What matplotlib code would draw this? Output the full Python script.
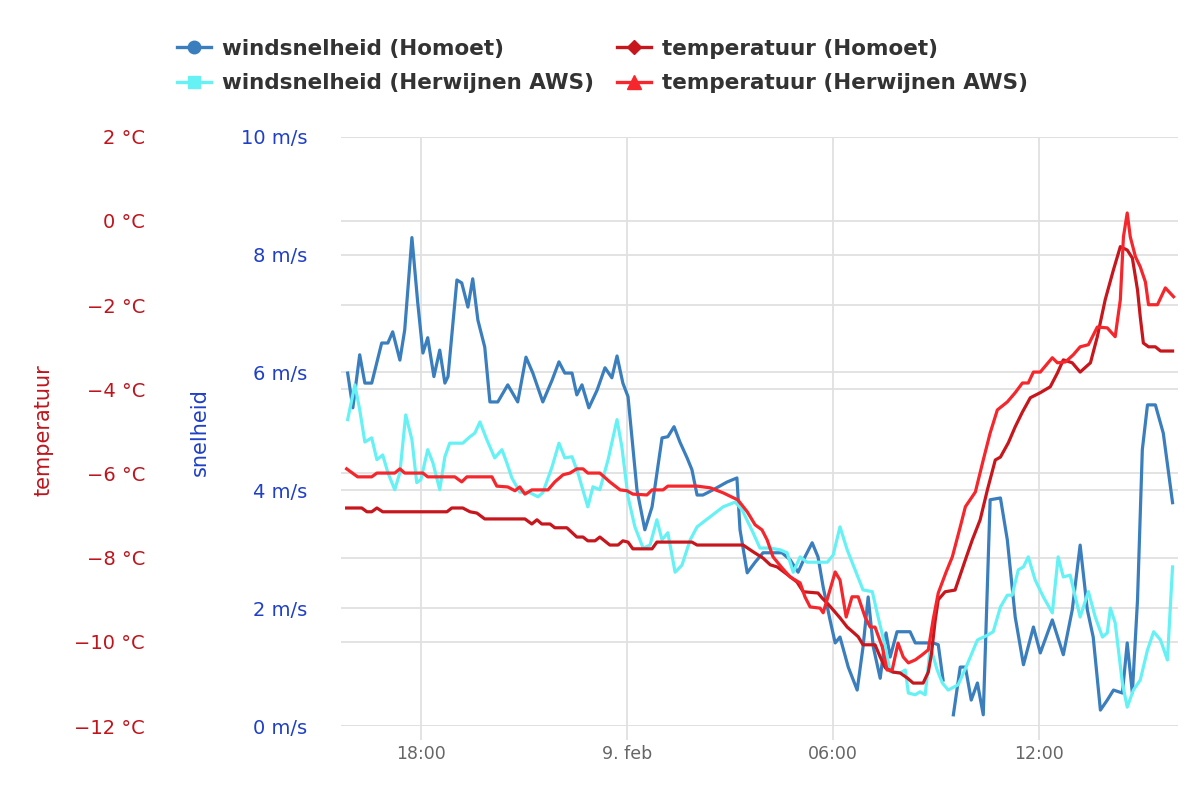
import numpy as np
import matplotlib
matplotlib.use('Agg')
import matplotlib.pyplot as plt
from matplotlib.lines import Line2D
from matplotlib.transforms import blended_transform_factory

# time in hours relative to 9 feb 00:00
wind_homoet_t = [-8.13, -7.98, -7.78, -7.63, -7.43, -7.14, -6.96, -6.82, -6.61, -6.47, -6.26, -6.09,
                 -5.94, -5.80, -5.62, -5.45, -5.30, -5.21, -4.95, -4.81, -4.63, -4.49, -4.34, -4.14,
                 -3.99, -3.76, -3.47, -3.18, -2.94, -2.74, -2.45, -2.18, -1.98, -1.81, -1.60, -1.46,
                 -1.31, -1.11, -0.87, -0.64, -0.44, -0.29, -0.12, 0.03, 0.15, 0.29, 0.52, 0.73,
                 1.02, 1.19, 1.37, 1.54, 1.75, 1.89, 2.04, 2.21, 2.51, 2.91, 3.20, 3.29,
                 3.50, 3.73, 3.96, 4.25, 4.51, 4.75, 4.98, 5.18, 5.39, 5.56, 5.71, 5.91,
                 6.06, 6.20, 6.44, 6.70, 6.87, 7.02, 7.17, 7.37, 7.54, 7.66, 7.86, 8.24,
                 8.39, 8.91, 9.06, 9.20, 9.35, 9.50, 9.70, 9.85, 10.02, 10.20, 10.37, 10.57,
                 10.87, 11.07, 11.30, 11.54, 11.83, 12.03, 12.38, 12.70, 12.96, 13.19, 13.40, 13.57,
                 13.78, 13.98, 14.16, 14.42, 14.56, 14.71, 14.86, 15.00, 15.15, 15.38, 15.61, 15.88]
wind_homoet = [5.99, 5.40, 6.30, 5.82, 5.82, 6.50, 6.50, 6.69, 6.21, 6.72, 8.29, 7.18,
               6.33, 6.59, 5.93, 6.38, 5.82, 5.93, 7.57, 7.52, 7.11, 7.59, 6.89, 6.43,
               5.50, 5.50, 5.79, 5.50, 6.26, 5.99, 5.50, 5.87, 6.18, 5.99, 5.99, 5.62,
               5.79, 5.40, 5.70, 6.08, 5.91, 6.28, 5.82, 5.59, 4.86, 4.01, 3.33, 3.72,
               4.89, 4.91, 5.08, 4.82, 4.55, 4.35, 3.92, 3.92, 4.01, 4.14, 4.21, 3.33,
               2.60, 2.78, 2.94, 2.94, 2.94, 2.82, 2.61, 2.87, 3.11, 2.87, 2.36, 1.80,
               1.41, 1.51, 1.00, 0.61, 1.34, 2.19, 1.34, 0.81, 1.58, 1.17, 1.60, 1.60,
               1.41, 1.41, 1.38, 0.78, np.nan, 0.19, 1.00, 1.00, 0.44, 0.73, 0.19, 3.84,
               3.87, 3.16, 1.85, 1.04, 1.68, 1.24, 1.80, 1.21, 1.97, 3.07, 1.97, 1.51,
               0.27, 0.44, 0.61, 0.56, 1.41, 0.56, 2.14, 4.69, 5.45, 5.45, 4.97, 3.79]

wind_herw_t = [-8.13, -7.92, -7.78, -7.63, -7.43, -7.28, -7.11, -6.96, -6.76, -6.61, -6.44, -6.26,
               -6.12, -6.00, -5.80, -5.65, -5.45, -5.30, -5.16, -4.78, -4.57, -4.43, -4.28, -4.08,
               -3.85, -3.64, -3.50, -3.35, -3.12, -2.83, -2.59, -2.45, -2.18, -1.98, -1.81, -1.60,
               -1.43, -1.14, -0.99, -0.79, -0.55, -0.29, -0.15, 0.03, 0.23, 0.47, 0.67, 0.87,
               1.02, 1.19, 1.40, 1.60, 1.84, 2.04, 2.42, 2.80, 3.15, 3.35, 3.67, 3.87,
               4.17, 4.46, 4.66, 4.84, 5.04, 5.24, 5.62, 5.83, 6.00, 6.20, 6.41, 6.64,
               6.87, 7.14, 7.31, 7.52, 7.66, 7.95, 8.10, 8.19, 8.39, 8.53, 8.68, 8.83,
               9.03, 9.18, 9.35, 9.64, 9.90, 10.20, 10.49, 10.66, 10.87, 11.07, 11.21, 11.39,
               11.54, 11.68, 11.88, 12.12, 12.38, 12.55, 12.70, 12.90, 13.19, 13.43, 13.63, 13.84,
               13.98, 14.07, 14.21, 14.42, 14.56, 14.74, 14.94, 15.15, 15.33, 15.53, 15.73, 15.88]
wind_herw = [5.20, 5.79, 5.37, 4.82, 4.89, 4.52, 4.60, 4.30, 4.01, 4.30, 5.28, 4.86,
             4.13, 4.18, 4.69, 4.47, 4.01, 4.57, 4.80, 4.80, 4.91, 4.97, 5.16, 4.86,
             4.55, 4.69, 4.47, 4.21, 3.97, 3.96, 3.89, 3.96, 4.40, 4.80, 4.55, 4.57,
             4.30, 3.72, 4.06, 4.01, 4.52, 5.20, 4.74, 3.89, 3.38, 3.02, 3.07, 3.50,
             3.16, 3.28, 2.61, 2.73, 3.16, 3.38, 3.55, 3.72, 3.80, 3.67, 3.28, 3.02,
             3.02, 2.99, 2.94, 2.61, 2.87, 2.78, 2.78, 2.78, 2.90, 3.38, 2.99, 2.65,
             2.31, 2.28, 1.85, 1.34, 0.92, 0.90, 0.95, 0.56, 0.53, 0.58, 0.53, 1.35,
             0.95, 0.73, 0.61, 0.70, 1.04, 1.46, 1.54, 1.60, 2.02, 2.22, 2.22, 2.65,
             2.70, 2.87, 2.48, 2.19, 1.92, 2.87, 2.53, 2.56, 1.85, 2.28, 1.85, 1.51,
             1.58, 2.00, 1.75, 0.73, 0.32, 0.61, 0.78, 1.29, 1.60, 1.46, 1.12, 2.70]

temp_homoet_t = [-8.16, -7.72, -7.57, -7.43, -7.28, -7.11, -5.24, -5.10, -4.78, -4.57, -4.37, -4.14,
                 -2.97, -2.77, -2.62, -2.48, -2.24, -2.10, -1.75, -1.46, -1.28, -1.14, -0.93, -0.79,
                 -0.50, -0.26, -0.12, 0.03, 0.17, 0.73, 0.87, 1.89, 2.04, 3.38, 3.67, 3.96,
                 4.17, 4.37, 4.60, 4.95, 5.13, 5.56, 5.68, 5.85, 6.00, 6.20, 6.41, 6.58,
                 6.73, 6.87, 7.22, 7.37, 7.52, 7.75, 7.95, 8.16, 8.33, 8.62, 8.77, 8.86,
                 8.97, 9.06, 9.26, 9.55, 9.85, 10.05, 10.28, 10.49, 10.72, 10.87, 11.10, 11.30,
                 11.51, 11.74, 12.03, 12.32, 12.53, 12.70, 12.96, 13.19, 13.49, 13.69, 13.92, 14.16,
                 14.36, 14.56, 14.71, 14.86, 14.94, 15.03, 15.18, 15.38, 15.53, 15.88]
temp_homoet = [-6.82, -6.82, -6.91, -6.91, -6.82, -6.91, -6.91, -6.82, -6.82, -6.91, -6.94, -7.08,
               -7.08, -7.20, -7.10, -7.20, -7.20, -7.29, -7.29, -7.51, -7.51, -7.60, -7.60, -7.51,
               -7.70, -7.70, -7.60, -7.63, -7.79, -7.79, -7.63, -7.63, -7.70, -7.70, -7.86, -8.01,
               -8.17, -8.22, -8.36, -8.58, -8.81, -8.84, -8.96, -9.10, -9.24, -9.43, -9.65, -9.77,
               -9.88, -10.07, -10.07, -10.36, -10.62, -10.72, -10.74, -10.86, -10.98, -10.98, -10.72, -10.30,
               -9.50, -9.00, -8.81, -8.77, -8.05, -7.58, -7.10, -6.39, -5.68, -5.61, -5.27, -4.89,
               -4.54, -4.20, -4.08, -3.94, -3.61, -3.30, -3.37, -3.59, -3.37, -2.75, -1.87, -1.16,
               -0.61, -0.69, -0.88, -1.64, -2.28, -2.90, -2.99, -2.99, -3.09, -3.09]

temp_herw_t = [-8.16, -7.84, -7.43, -7.28, -6.76, -6.61, -6.47, -5.94, -5.80, -5.01, -4.81, -4.66,
               -3.93, -3.79, -3.47, -3.26, -3.12, -2.97, -2.77, -2.30, -2.10, -1.86, -1.66, -1.46,
               -1.28, -1.14, -0.79, -0.50, -0.20, 0.00, 0.17, 0.58, 0.73, 1.05, 1.19, 2.04,
               2.42, 2.80, 3.23, 3.50, 3.73, 3.93, 4.08, 4.25, 4.51, 4.75, 5.04, 5.18,
               5.33, 5.62, 5.71, 5.85, 6.06, 6.20, 6.38, 6.55, 6.73, 6.93, 7.08, 7.22,
               7.43, 7.57, 7.72, 7.89, 8.04, 8.19, 8.39, 8.59, 8.77, 8.91, 9.06, 9.29,
               9.47, 9.70, 9.85, 10.14, 10.37, 10.57, 10.78, 11.07, 11.30, 11.51, 11.68, 11.83,
               12.03, 12.38, 12.53, 12.76, 12.99, 13.19, 13.43, 13.69, 13.98, 14.21, 14.36, 14.45,
               14.56, 14.65, 14.80, 14.94, 15.09, 15.18, 15.44, 15.67, 15.91]
temp_herw = [-5.89, -6.08, -6.08, -5.99, -5.99, -5.89, -5.99, -5.99, -6.08, -6.08, -6.20, -6.08,
             -6.08, -6.30, -6.32, -6.41, -6.32, -6.49, -6.39, -6.39, -6.20, -6.03, -5.99, -5.89,
             -5.89, -5.99, -5.99, -6.20, -6.39, -6.41, -6.49, -6.51, -6.39, -6.39, -6.30, -6.30,
             -6.34, -6.46, -6.63, -6.91, -7.22, -7.34, -7.58, -7.98, -8.24, -8.46, -8.60, -8.93,
             -9.17, -9.20, -9.31, -8.93, -8.34, -8.53, -9.41, -8.93, -8.93, -9.41, -9.65, -9.65,
             -10.12, -10.67, -10.67, -10.03, -10.36, -10.50, -10.43, -10.31, -10.19, -9.48, -8.84, -8.34,
             -7.98, -7.27, -6.79, -6.44, -5.68, -5.04, -4.49, -4.30, -4.08, -3.85, -3.85, -3.59,
             -3.59, -3.25, -3.37, -3.35, -3.18, -2.99, -2.94, -2.52, -2.54, -2.75, -1.87, -0.38,
             0.19, -0.38, -0.85, -1.09, -1.45, -1.99, -1.99, -1.59, -1.80]

x_ticks = [-6, 0, 6, 12]
x_labels = ['18:00', '9. feb', '06:00', '12:00']
wind_ticks = [0, 2, 4, 6, 8, 10]
temp_ticks = [-12, -10, -8, -6, -4, -2, 0, 2]

c_wind_h = '#3a7ebd'
c_wind_w = '#66f2f5'
c_temp_h = '#c8161d'
c_temp_w = '#f5262c'
c_wind_lab = '#1f3fc8'
c_temp_lab = '#c0141c'
grid_c = '#e0e0e0'

plt.rcParams['font.family'] = ['DejaVu Sans']

fig = plt.figure(figsize=(12, 8), dpi=100)
ax = fig.add_axes([0.284, 0.0925, 0.698, 0.7365])
ax2 = ax.twinx()

ax.set_xlim(-8.33, 16.05)
ax.set_ylim(0, 10)
ax2.set_ylim(-12, 2)

# all grid lines live in the bottom axes so no series gets covered
for v in wind_ticks:
    ax.axhline(v, color=grid_c, lw=1.3, zorder=0)
temp_grid_tr = blended_transform_factory(ax.transAxes, ax2.transData)
for v in temp_ticks:
    ax.plot([0, 1], [v, v], color=grid_c, lw=1.3, zorder=0, transform=temp_grid_tr)
for v in x_ticks:
    ax.axvline(v, color=grid_c, lw=1.3, zorder=0)

lw = 2.3
ax.plot(wind_homoet_t, wind_homoet, color=c_wind_h, lw=lw, solid_joinstyle='round', zorder=3)
ax.plot(wind_herw_t, wind_herw, color=c_wind_w, lw=lw, solid_joinstyle='round', zorder=3)
ax2.plot(temp_homoet_t, temp_homoet, color=c_temp_h, lw=lw, solid_joinstyle='round', zorder=3)
ax2.plot(temp_herw_t, temp_herw, color=c_temp_w, lw=lw, solid_joinstyle='round', zorder=3)

for a in (ax, ax2):
    for s in a.spines.values():
        s.set_visible(False)

ax.set_xticks(x_ticks)
ax.set_xticklabels(x_labels)
ax.tick_params(axis='x', length=10, width=1.3, color=grid_c, pad=3.5, labelsize=12.5, labelcolor='#666666')

ax.set_yticks(wind_ticks)
ax.set_yticklabels([f'{v} m/s' for v in wind_ticks])
ax.tick_params(axis='y', length=0, pad=24, labelsize=14, labelcolor=c_wind_lab)

ax2.yaxis.tick_left()
ax2.set_yticks(temp_ticks)
ax2.set_yticklabels([f'\u2212{abs(v)} °C' if v < 0 else f'{v} °C' for v in temp_ticks])
ax2.tick_params(axis='y', length=0, pad=141, labelsize=14, labelcolor=c_temp_lab)

fig.text(43 / 1200, 1 - 430 / 800, 'temperatuur', rotation=90, ha='center', va='center',
         color=c_temp_lab, fontsize=15)
fig.text(200 / 1200, 1 - 432 / 800, 'snelheid', rotation=90, ha='center', va='center',
         color=c_wind_lab, fontsize=15)

handles = [
    Line2D([], [], color=c_wind_h, lw=2.4, marker='o', markersize=9),
    Line2D([], [], color=c_wind_w, lw=2.4, marker='s', markersize=9),
    Line2D([], [], color=c_temp_h, lw=2.4, marker='D', markersize=7),
    Line2D([], [], color=c_temp_w, lw=2.4, marker='^', markersize=10),
]
labels = ['windsnelheid (Homoet)', 'windsnelheid (Herwijnen AWS)',
          'temperatuur (Homoet)', 'temperatuur (Herwijnen AWS)']
leg = fig.legend(handles, labels, ncol=2, loc='upper center', bbox_to_anchor=(0.502, 0.976),
                 frameon=False, handlelength=1.6, handletextpad=0.5, columnspacing=1.05,
                 labelspacing=0.68, prop={'weight': 'bold', 'size': 15.5})
for t in leg.get_texts():
    t.set_color('#333333')

fig.savefig('out.png', dpi=100)
